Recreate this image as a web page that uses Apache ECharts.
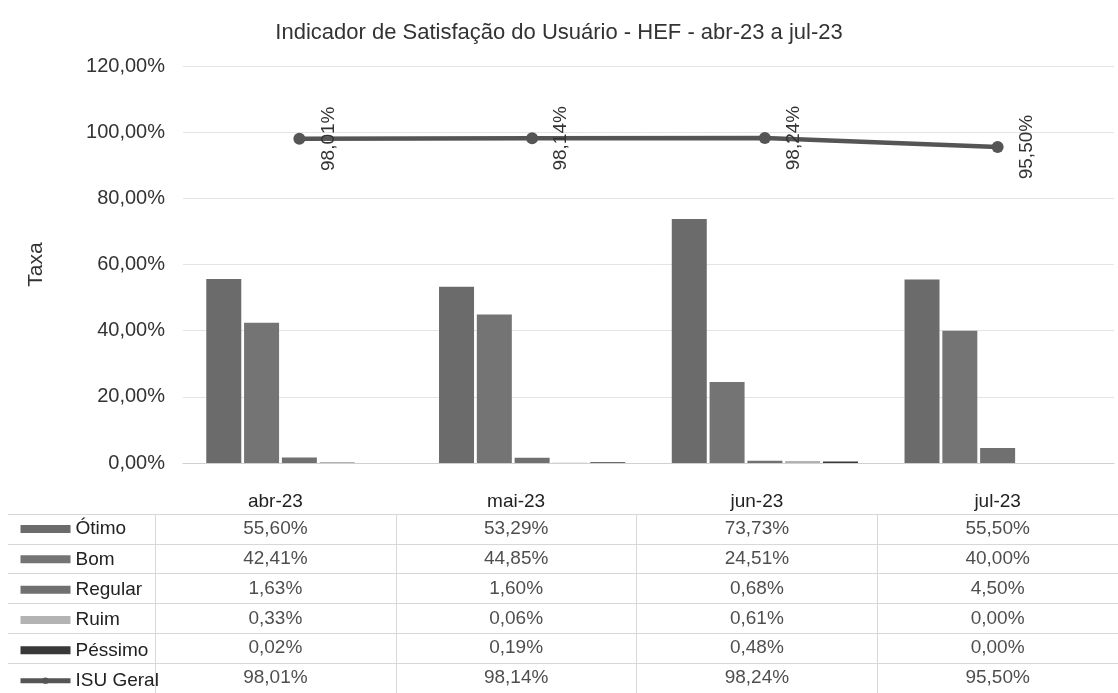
<!DOCTYPE html>
<html>
<head>
<meta charset="utf-8">
<script src="https://cdn.jsdelivr.net/npm/echarts@6/dist/echarts.min.js"></script>
<style>html,body{margin:0;padding:0;background:#fff}#c{width:1118px;height:693px}</style>
</head>
<body>
<div id="c"></div>
<script>
const categories = ['abr-23', 'mai-23', 'jun-23', 'jul-23'];
const otimo   = [55.60, 53.29, 73.73, 55.50];
const bom     = [42.41, 44.85, 24.51, 40.00];
const regular = [1.63, 1.60, 0.68, 4.50];
const ruim    = [0.33, 0.06, 0.61, 0.00];
const pessimo = [0.02, 0.19, 0.48, 0.00];
const isuGeral = [98.01, 98.14, 98.24, 95.50];
const yTicks = [0, 20, 40, 60, 80, 100, 120];
const rowNames = ['Ótimo', 'Bom', 'Regular', 'Ruim', 'Péssimo', 'ISU Geral'];
const rowValues = [otimo, bom, regular, ruim, pessimo, isuGeral];
const rowColors = ['#6b6b6b', '#747474', '#707070', '#b3b3b3', '#383838', '#555555'];

const fmt = v => v.toFixed(2).replace('.', ',') + '%';
const font = 'Liberation Sans, Arial, sans-serif';

const tableData = [];
rowNames.forEach((r, ri) => {
  categories.forEach((c, ci) => tableData.push([c, r, rowValues[ri][ci]]));
});

const legendData = rowNames.map((n, i) => i < 5 ? { name: n, icon: 'rect' } : { name: n, lineStyle: { width: 5 } });

const barSeries = rowNames.slice(0, 5).map((name, i) => ({
  name: name,
  type: 'bar',
  xAxisIndex: 0, yAxisIndex: 0,
  data: rowValues[i],
  barWidth: 35,
  barGap: '8%',
  itemStyle: { color: rowColors[i] }
}));

const chart = echarts.init(document.getElementById('c'), null, { renderer: 'canvas' });
chart.setOption({
  backgroundColor: '#fff',
  animation: false,
  textStyle: { fontFamily: font },
  title: {
    text: 'Indicador de Satisfação do Usuário - HEF - abr-23 a jul-23',
    left: 'center', top: 17,
    textStyle: { fontFamily: font, fontSize: 22, fontWeight: 'normal', color: '#333' }
  },
  legend: {
    orient: 'vertical',
    left: 18, top: 519, height: 176,
    padding: 0,
    itemWidth: 50, itemHeight: 8,
    itemGap: 10.33,
    data: legendData,
    textStyle: { fontFamily: font, fontSize: 19, color: '#222', lineHeight: 20 },
    selectedMode: false
  },
  grid: [
    { left: 183, right: 4, top: 66, bottom: 230 },
    { left: 155, right: 0, top: 514, height: 182 },
    { left: 8, width: 147, top: 514, height: 182 }
  ],
  xAxis: [
    { type: 'category', gridIndex: 0, data: categories,
      axisLine: { lineStyle: { color: '#d0d0d0' } }, axisTick: { show: false },
      axisLabel: { show: false } },
    { type: 'category', gridIndex: 1, data: categories, position: 'top',
      axisLine: { show: false }, axisTick: { show: false },
      axisLabel: { fontFamily: font, fontSize: 19, color: '#222', margin: 3 },
      splitLine: { show: true, lineStyle: { color: '#d8d8d8' } } },
    { type: 'category', gridIndex: 2, data: [''],
      axisLine: { show: false }, axisTick: { show: false }, axisLabel: { show: false },
      splitLine: { show: false } }
  ],
  yAxis: [
    { type: 'value', gridIndex: 0, min: yTicks[0], max: yTicks[yTicks.length - 1], interval: 20,
      name: 'Taxa', nameLocation: 'middle', nameGap: 136, nameRotate: 90,
      nameTextStyle: { fontFamily: font, fontSize: 21, color: '#333' },
      axisLine: { show: false }, axisTick: { show: false },
      axisLabel: { fontFamily: font, fontSize: 20, color: '#333', margin: 18, formatter: v => fmt(v) },
      splitLine: { lineStyle: { color: '#e4e4e4' } } },
    { type: 'category', gridIndex: 1, data: rowNames, inverse: true,
      axisLine: { show: false }, axisTick: { show: false }, axisLabel: { show: false },
      splitLine: { show: true, lineStyle: { color: '#d8d8d8' } } },
    { type: 'category', gridIndex: 2, data: rowNames, inverse: true,
      axisLine: { show: false }, axisTick: { show: false }, axisLabel: { show: false },
      splitLine: { show: true, lineStyle: { color: '#d8d8d8' } } }
  ],
  series: barSeries.concat([
    {
      name: 'ISU Geral', type: 'line', xAxisIndex: 0, yAxisIndex: 0,
      data: isuGeral,
      symbol: 'circle', symbolSize: 12,
      lineStyle: { color: '#555', width: 4.5 },
      itemStyle: { color: '#555' },
      label: {
        show: true, position: 'inside', rotate: 90, offset: [0, 29],
        fontFamily: font, fontSize: 19, color: '#333',
        formatter: p => fmt(p.value)
      },
      z: 5
    },
    {
      name: 'tabela', type: 'scatter', xAxisIndex: 1, yAxisIndex: 1,
      data: tableData, symbolSize: 0, silent: true,
      label: {
        show: true, position: 'inside',
        fontFamily: font, fontSize: 19, color: '#222',
        formatter: p => fmt(p.value[2])
      }
    }
  ])
});
</script>
</body>
</html>
